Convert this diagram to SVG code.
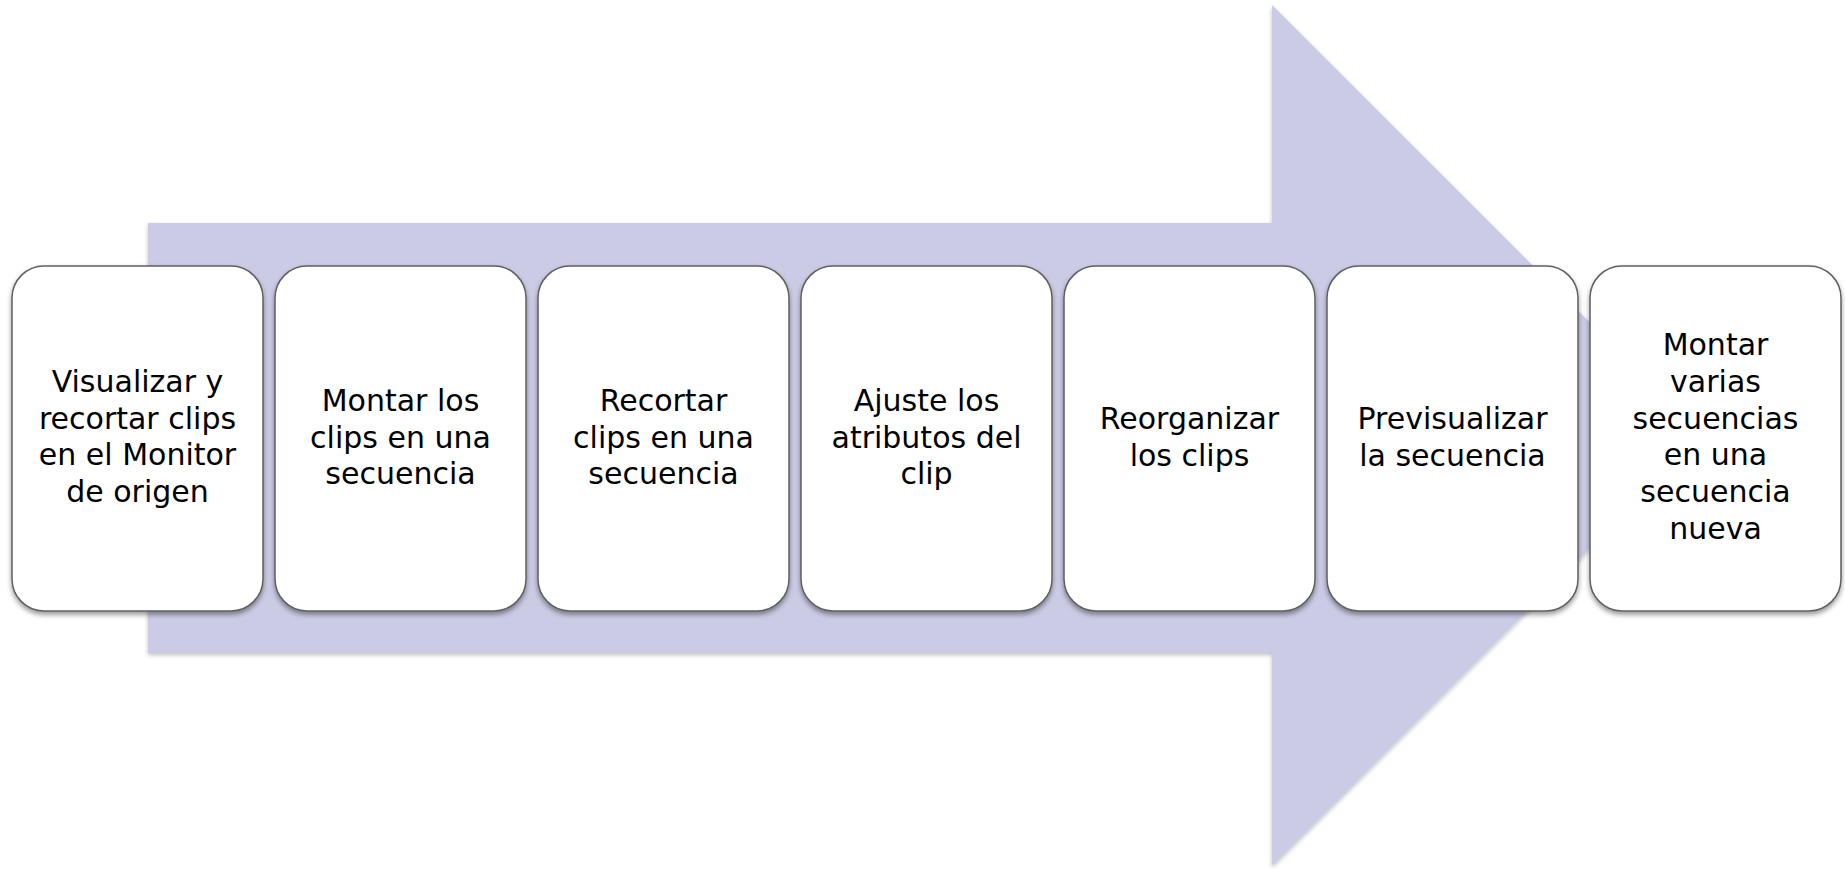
<svg xmlns="http://www.w3.org/2000/svg" width="1845" height="869" viewBox="0 0 1845 869">
  <defs>
    <filter id="sh" x="-10%" y="-10%" width="120%" height="125%">
      <feDropShadow dx="0" dy="3" stdDeviation="2.5" flood-color="#000" flood-opacity="0.4"/>
    </filter>
    <filter id="shA" x="-5%" y="-5%" width="110%" height="110%">
      <feDropShadow dx="0" dy="2" stdDeviation="2" flood-color="#000" flood-opacity="0.25"/>
    </filter>
  </defs>
  <style>
    .box { fill: #ffffff; stroke: #5f5f5f; stroke-width: 1.5; filter: url(#sh); }
    .lbl { font-family: "DejaVu Sans", Verdana, sans-serif; font-size: 30px; fill: #000; text-anchor: middle; }
    .arrow { fill: #CBCBE6; filter: url(#shA); }
  </style>
  <rect width="1845" height="869" fill="#ffffff"/>
  <g id="connectors">
    <path class="arrow" d="M148,223 L1272,223 L1272,5 L1703,435.5 L1272,866 L1272,653 L148,653 Z"/>
  </g>
  <g id="node1">
    <rect class="box" x="12" y="266" width="251" height="345" rx="32" ry="32"/>
    <text class="lbl"><tspan x="137.5" y="392">Visualizar y</tspan><tspan x="137.5" y="428.7">recortar clips</tspan><tspan x="137.5" y="465.4">en el Monitor</tspan><tspan x="137.5" y="502.1">de origen</tspan></text>
  </g>
  <g id="node2">
    <rect class="box" x="275" y="266" width="251" height="345" rx="32" ry="32"/>
    <text class="lbl"><tspan x="400.5" y="410.8">Montar los</tspan><tspan x="400.5" y="447.5">clips en una</tspan><tspan x="400.5" y="484.2">secuencia</tspan></text>
  </g>
  <g id="node3">
    <rect class="box" x="538" y="266" width="251" height="345" rx="32" ry="32"/>
    <text class="lbl"><tspan x="663.5" y="410.8">Recortar</tspan><tspan x="663.5" y="447.5">clips en una</tspan><tspan x="663.5" y="484.2">secuencia</tspan></text>
  </g>
  <g id="node4">
    <rect class="box" x="801" y="266" width="251" height="345" rx="32" ry="32"/>
    <text class="lbl"><tspan x="926.5" y="410.8">Ajuste los</tspan><tspan x="926.5" y="447.5">atributos del</tspan><tspan x="926.5" y="484.2">clip</tspan></text>
  </g>
  <g id="node5">
    <rect class="box" x="1064" y="266" width="251" height="345" rx="32" ry="32"/>
    <text class="lbl"><tspan x="1189.5" y="429">Reorganizar</tspan><tspan x="1189.5" y="465.7">los clips</tspan></text>
  </g>
  <g id="node6">
    <rect class="box" x="1327" y="266" width="251" height="345" rx="32" ry="32"/>
    <text class="lbl"><tspan x="1452.5" y="429">Previsualizar</tspan><tspan x="1452.5" y="465.7">la secuencia</tspan></text>
  </g>
  <g id="node7">
    <rect class="box" x="1590" y="266" width="251" height="345" rx="32" ry="32"/>
    <text class="lbl"><tspan x="1715.5" y="355.3">Montar</tspan><tspan x="1715.5" y="392">varias</tspan><tspan x="1715.5" y="428.7">secuencias</tspan><tspan x="1715.5" y="465.4">en una</tspan><tspan x="1715.5" y="502.1">secuencia</tspan><tspan x="1715.5" y="538.8">nueva</tspan></text>
  </g>
</svg>
